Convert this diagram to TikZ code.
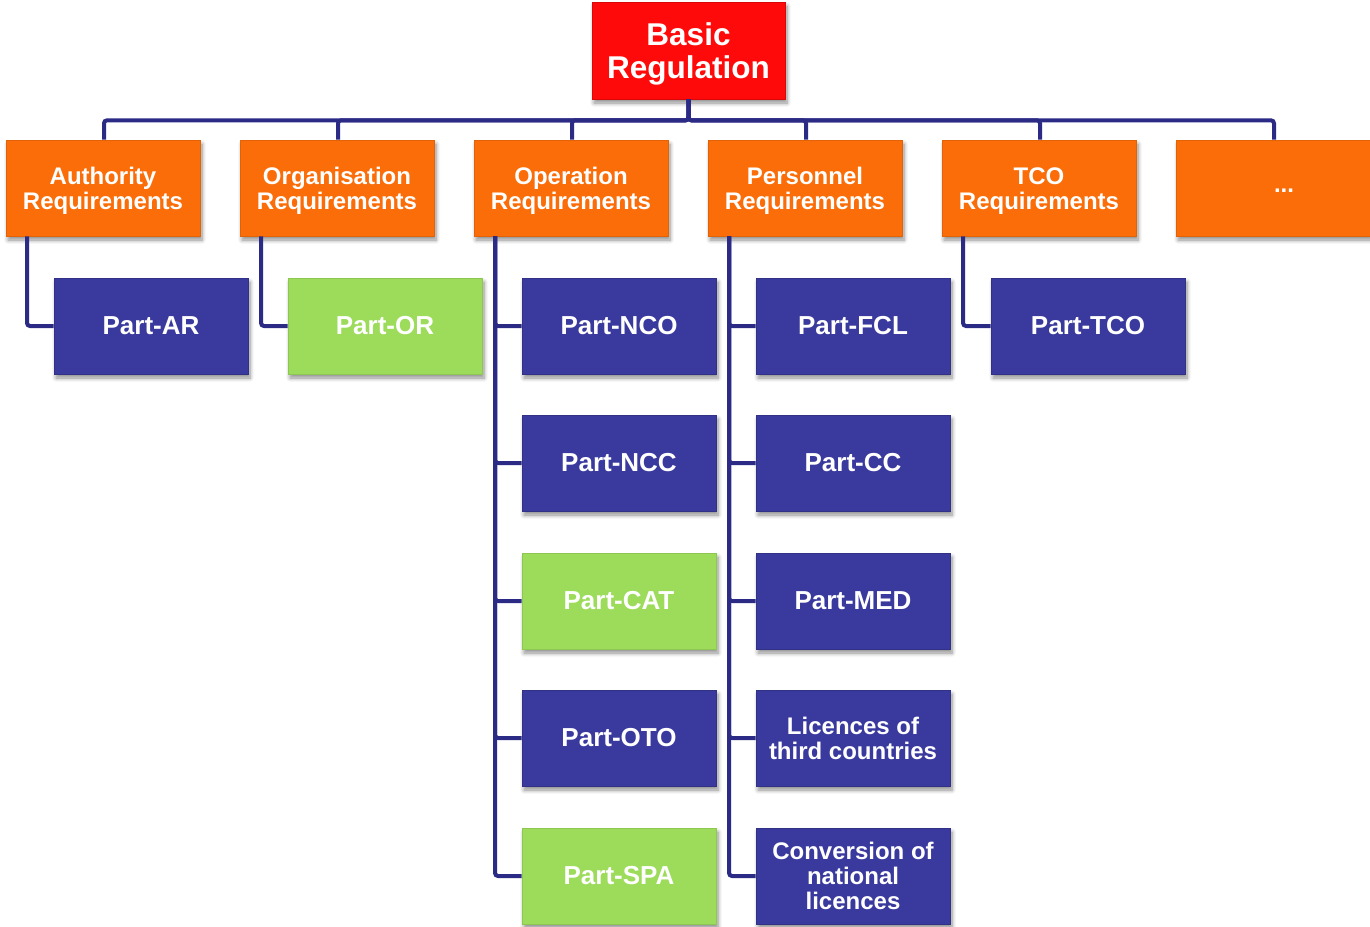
\documentclass[tikz,border=0pt]{standalone}
\usepackage{fontspec}
\setmainfont{Liberation Sans}
\usetikzlibrary{shadows,shadows.blur}
\definecolor{linec}{HTML}{2B2A85}
\definecolor{rootc}{HTML}{FF0A0A}
\definecolor{catc}{HTML}{FB6D08}
\definecolor{bluec}{HTML}{3A3A9E}
\definecolor{greenc}{HTML}{9DDC5A}
\newcommand{\catpad}{\rule{0pt}{23.5pt}}
\newcommand{\rootpad}{\rule{0pt}{29pt}}
\tikzset{
  box/.style={minimum width=194pt, minimum height=96pt, inner sep=0pt, align=center,
    text=white, font=\bfseries\fontsize{24}{25}\selectfont,
    blur shadow={shadow xshift=2pt, shadow yshift=-4pt, shadow blur steps=6, shadow blur radius=4pt, shadow opacity=45}},
  rootbox/.style={box, fill=rootc, draw=rootc!85!black, line width=0.6pt, minimum width=193pt, minimum height=97pt, font=\bfseries\fontsize{31.5}{33}\selectfont},
  catbox/.style={box, fill=catc, draw=catc!90!black, line width=0.6pt},
  bluebox/.style={box, fill=bluec, draw=bluec!85!black, line width=0.6pt},
  greenbox/.style={box, fill=greenc, draw=greenc!90!black, line width=0.6pt},
  partfont/.style={font=\bfseries\fontsize{26}{28}\selectfont},
  conn/.style={draw=linec, line width=4pt, rounded corners=3pt}
}
\begin{document}
\begin{tikzpicture}[x=1pt,y=-1pt]
\useasboundingbox (0,0) rectangle (1370,926);
% nodes
\node[rootbox] (root) at (688.5,50.5) {\rootpad Basic\\Regulation};
\node[catbox] (auth) at (103,188) {\catpad Authority\\Requirements};
\node[catbox] (org) at (337,188) {\catpad Organisation\\Requirements};
\node[catbox] (ops) at (571,188) {\catpad Operation\\Requirements};
\node[catbox] (pers) at (805,188) {\catpad Personnel\\Requirements};
\node[catbox] (tco) at (1039,188) {\catpad TCO\\Requirements};
\node[catbox] (more) at (1273,188) {\hspace*{22pt}\raisebox{-8pt}{...}};

\node[bluebox, partfont] (ar) at (151,326) {Part-AR};
\node[greenbox, partfont] (or) at (385,326) {Part-OR};
\node[bluebox, partfont] (nco) at (619,326) {Part-NCO};
\node[bluebox, partfont] (ncc) at (619,463) {Part-NCC};
\node[greenbox, partfont] (cat) at (619,601) {Part-CAT};
\node[bluebox, partfont] (oto) at (619,738) {Part-OTO};
\node[greenbox, partfont] (spa) at (619,876) {Part-SPA};
\node[bluebox, partfont] (fcl) at (853,326) {Part-FCL};
\node[bluebox, partfont] (cc) at (853,463) {Part-CC};
\node[bluebox, partfont] (med) at (853,601) {Part-MED};
\node[bluebox] (lic) at (853,738) {Licences of\\third countries};
\node[bluebox] (conv) at (853,876) {Conversion of\\national\\licences};
\node[bluebox, partfont] (ptco) at (1088,326) {Part-TCO};

% connectors
\foreach \c in {auth,org,ops,pers,tco,more}{
  \draw[conn] (root.south) -- ++(0,21) -| ([xshift=1pt]\c.north);
}
\draw[conn] ([xshift=-76pt]auth.south) |- (ar.west);
\draw[conn] ([xshift=-76pt]org.south) |- (or.west);
\foreach \c in {nco,ncc,cat,oto,spa}{
  \draw[conn] ([xshift=-76pt]ops.south) |- (\c.west);
}
\foreach \c in {fcl,cc,med,lic,conv}{
  \draw[conn] ([xshift=-76pt]pers.south) |- (\c.west);
}
\draw[conn] ([xshift=-76pt]tco.south) |- (ptco.west);
\end{tikzpicture}
\end{document}
